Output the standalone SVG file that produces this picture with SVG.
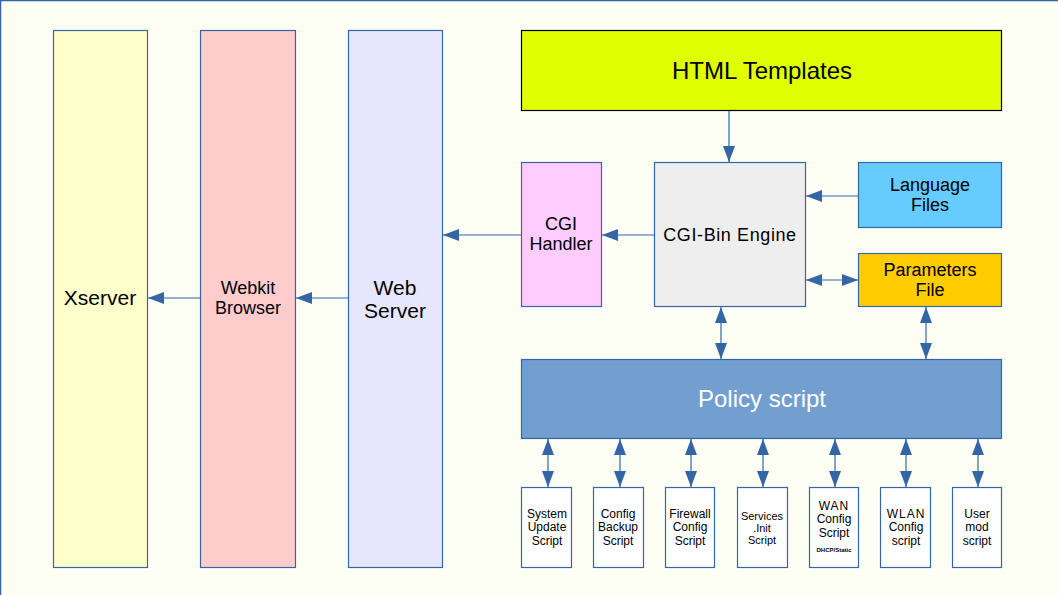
<svg xmlns="http://www.w3.org/2000/svg" width="1058" height="595" viewBox="0 0 1058 595">
<defs>
<style>
.n{stroke:#3465a4;stroke-width:1.2}
text{font-family:"Liberation Sans",Arial,sans-serif;fill:#000;text-anchor:middle}
.l{font-size:21px}
.m{font-size:18px}
.s{font-size:12px}
.c line{stroke:#3465a4;stroke-width:1.2}
</style>
<marker id="ah" viewBox="0 0 16 12" refX="16" refY="6" markerWidth="16" markerHeight="12" markerUnits="userSpaceOnUse" orient="auto-start-reverse">
<path d="M0,0 L16,6 L0,12 Z" fill="#3465a4"/>
</marker>
</defs>
<rect x="0.5" y="0.5" width="1100" height="700" fill="#fdfff5" stroke="#3465a4" stroke-width="1.5"/>

<g id="xserver"><rect class="n" x="53.5" y="30.5" width="94" height="537" fill="#ffffcc"/><text class="l" x="100" y="305">Xserver</text></g>
<g id="webkit"><rect class="n" x="200.5" y="30.5" width="95" height="537" fill="#ffcccc"/><text class="m" x="248" y="294">Webkit</text><text class="m" x="248" y="314">Browser</text></g>
<g id="webserver"><rect class="n" x="348.5" y="30.5" width="94" height="537" fill="#e6e6ff"/><text class="l" x="395" y="295">Web</text><text class="l" x="395" y="318">Server</text></g>
<g id="html"><rect x="521.5" y="30.5" width="480" height="80" fill="#e0ff00" stroke="#000" stroke-width="1.2"/><text x="762" y="79" style="font-size:24px">HTML Templates</text></g>
<g id="cgihandler"><rect class="n" x="521.5" y="162.5" width="80" height="144" fill="#ffccff"/><text class="m" x="561" y="230">CGI</text><text class="m" x="561" y="250">Handler</text></g>
<g id="cgibin"><rect class="n" x="654.5" y="162.5" width="151" height="144" fill="#eeeeee"/><text class="m" x="730" y="241" letter-spacing="0.6">CGI-Bin Engine</text></g>
<g id="lang"><rect class="n" x="858.5" y="162.5" width="143" height="65" fill="#66ccff"/><text class="m" x="930" y="191">Language</text><text class="m" x="930" y="211">Files</text></g>
<g id="params"><rect class="n" x="858.5" y="253.5" width="143" height="53" fill="#ffcc00"/><text class="m" x="930" y="276">Parameters</text><text class="m" x="930" y="296">File</text></g>
<g id="policy"><rect class="n" x="521.5" y="359.5" width="480" height="79" fill="#729fcf"/><text x="762" y="407" style="font-size:24px;fill:#fff">Policy script</text></g>

<g id="sysupdate"><rect class="n" x="521.5" y="487.5" width="50" height="80" fill="#fff"/><text class="s" x="547" y="518">System</text><text class="s" x="547" y="531">Update</text><text class="s" x="547" y="545">Script</text></g>
<g id="cfgbackup"><rect class="n" x="593.5" y="487.5" width="50" height="80" fill="#fff"/><text class="s" x="618" y="518">Config</text><text class="s" x="618" y="531">Backup</text><text class="s" x="618" y="545">Script</text></g>
<g id="firewall"><rect class="n" x="665.5" y="487.5" width="49" height="80" fill="#fff"/><text class="s" x="690" y="518">Firewall</text><text class="s" x="690" y="531">Config</text><text class="s" x="690" y="545">Script</text></g>
<g id="services"><rect class="n" x="737.5" y="487.5" width="50" height="80" fill="#fff"/><text x="762" y="520" style="font-size:11px">Services</text><text x="762" y="532" style="font-size:11px">.Init</text><text x="762" y="544" style="font-size:11px">Script</text></g>
<g id="wan"><rect class="n" x="809.5" y="487.5" width="49" height="80" fill="#fff"/><text class="s" x="834" y="510" letter-spacing="1">WAN</text><text class="s" x="834" y="523">Config</text><text class="s" x="834" y="537">Script</text><text x="834" y="552" style="font-size:6px;font-weight:bold">DHCP/Static</text></g>
<g id="wlan"><rect class="n" x="880.5" y="487.5" width="50" height="80" fill="#fff"/><text class="s" x="906" y="518" letter-spacing="1">WLAN</text><text class="s" x="906" y="531">Config</text><text class="s" x="906" y="545">script</text></g>
<g id="usermod"><rect class="n" x="952.5" y="487.5" width="49" height="80" fill="#fff"/><text class="s" x="977" y="518">User</text><text class="s" x="977" y="531">mod</text><text class="s" x="977" y="545">script</text></g>

<g id="connectors" class="c">
<line x1="729" y1="111" x2="729" y2="162" marker-end="url(#ah)"/>
<line x1="654" y1="235" x2="602" y2="235" marker-end="url(#ah)"/>
<line x1="521" y1="235" x2="443" y2="235" marker-end="url(#ah)"/>
<line x1="348" y1="298" x2="296" y2="298" marker-end="url(#ah)"/>
<line x1="200" y1="298" x2="148" y2="298" marker-end="url(#ah)"/>
<line x1="858" y1="196" x2="806" y2="196" marker-end="url(#ah)"/>
<line x1="806" y1="280" x2="858" y2="280" marker-start="url(#ah)" marker-end="url(#ah)"/>
<line x1="721" y1="307" x2="721" y2="359" marker-start="url(#ah)" marker-end="url(#ah)"/>
<line x1="926" y1="307" x2="926" y2="359" marker-start="url(#ah)" marker-end="url(#ah)"/>
<line x1="548" y1="439" x2="548" y2="487" marker-start="url(#ah)" marker-end="url(#ah)"/>
<line x1="620" y1="439" x2="620" y2="487" marker-start="url(#ah)" marker-end="url(#ah)"/>
<line x1="691" y1="439" x2="691" y2="487" marker-start="url(#ah)" marker-end="url(#ah)"/>
<line x1="763" y1="439" x2="763" y2="487" marker-start="url(#ah)" marker-end="url(#ah)"/>
<line x1="835" y1="439" x2="835" y2="487" marker-start="url(#ah)" marker-end="url(#ah)"/>
<line x1="906" y1="439" x2="906" y2="487" marker-start="url(#ah)" marker-end="url(#ah)"/>
<line x1="978" y1="439" x2="978" y2="487" marker-start="url(#ah)" marker-end="url(#ah)"/>
</g>
</svg>
